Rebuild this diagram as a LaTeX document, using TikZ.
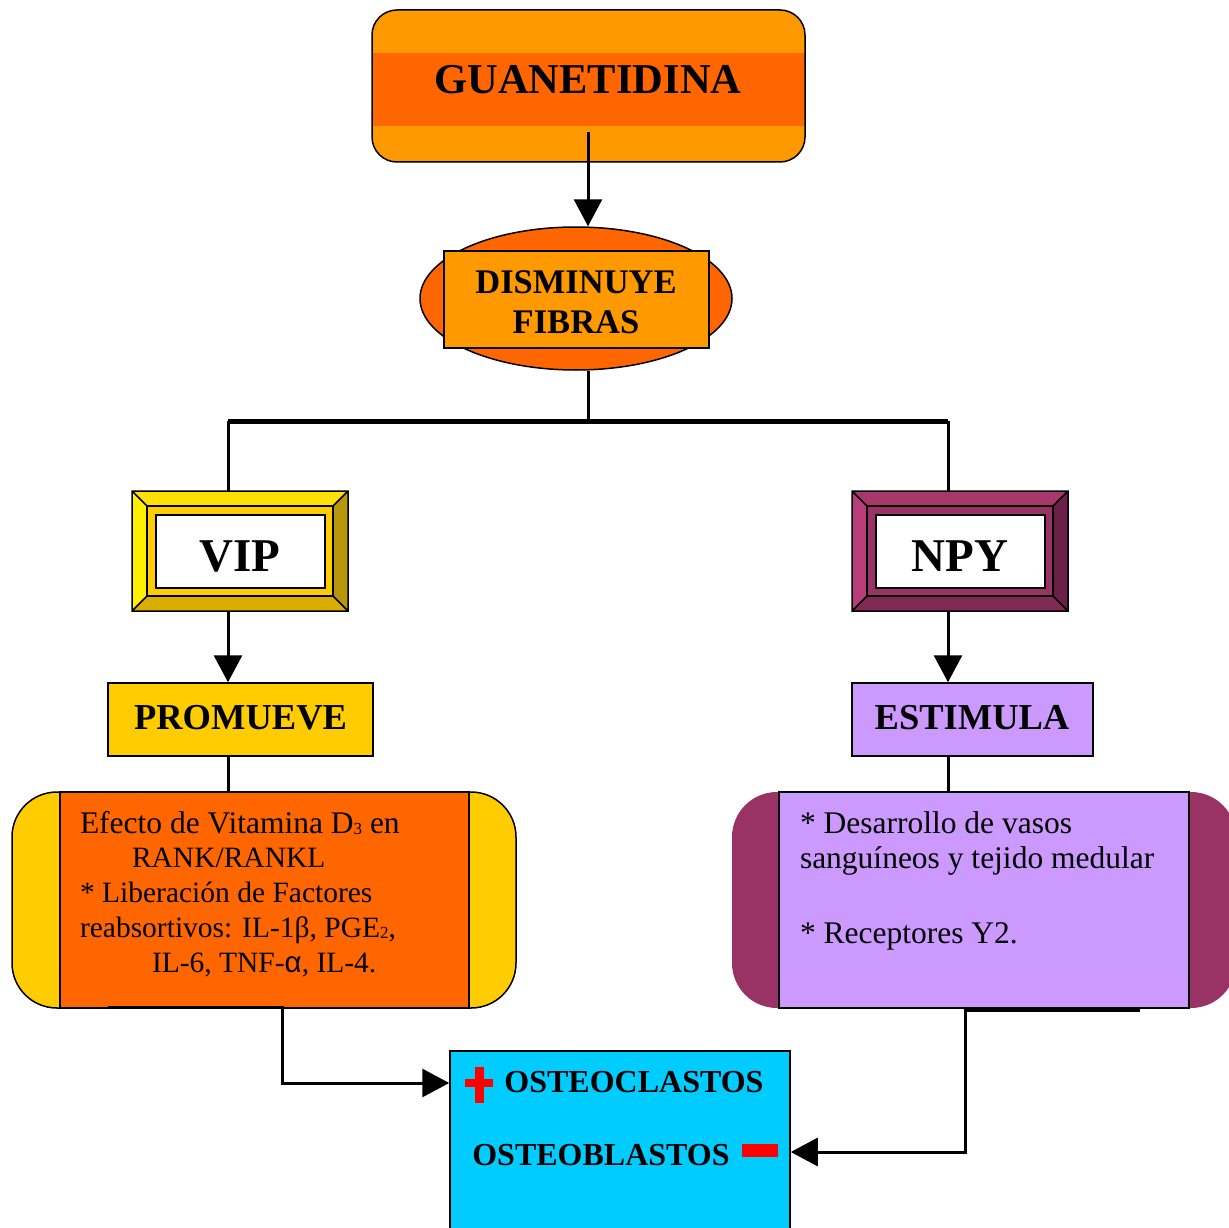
\documentclass[tikz,border=0pt]{standalone}
\usepackage{fontspec}
\setmainfont{Liberation Serif}
\newfontfamily\alphafont{Liberation Sans}
\usetikzlibrary{shapes.geometric,arrows.meta}
\definecolor{orgL}{HTML}{FF9900}
\definecolor{orgD}{HTML}{FF6600}
\definecolor{yel}{HTML}{FFCC00}
\definecolor{vtop}{HTML}{FFE100}
\definecolor{vleft}{HTML}{FFF000}
\definecolor{vright}{HTML}{B8960A}
\definecolor{vbot}{HTML}{DAAE00}
\definecolor{maroon}{HTML}{993366}
\definecolor{ntop}{HTML}{A8386C}
\definecolor{nleft}{HTML}{B83D7A}
\definecolor{nright}{HTML}{6B2147}
\definecolor{nbot}{HTML}{7F2A55}
\definecolor{lilac}{HTML}{CC99FF}
\definecolor{cyanbox}{HTML}{00CCFF}
\newcommand\subsc[1]{\raisebox{-1.5pt}{\fontsize{17}{17}\selectfont #1}}
\newcommand\drawbevel[9]{%
 \fill[#5] (#1,#2) -- (#3,#2) -- ({#3-15},{#2+15}) -- ({#1+15},{#2+15}) -- cycle;
 \fill[#6] (#1,#2) -- ({#1+15},{#2+15}) -- ({#1+15},{#4-15}) -- (#1,#4) -- cycle;
 \fill[#7] (#3,#2) -- (#3,#4) -- ({#3-15},{#4-15}) -- ({#3-15},{#2+15}) -- cycle;
 \fill[#8] (#1,#4) -- (#3,#4) -- ({#3-15},{#4-15}) -- ({#1+15},{#4-15}) -- cycle;
 \draw[line width=1.5pt,fill=#9] ({#1+15},{#2+15}) rectangle ({#3-15},{#4-15});
 \draw[line width=1.5pt,fill=white] ({#1+24},{#2+24}) rectangle ({#3-23},{#4-23});
 \draw[line width=1.5pt] (#1,#2) rectangle (#3,#4)
   (#1,#2) -- ({#1+15},{#2+15}) (#3,#2) -- ({#3-15},{#2+15})
   (#1,#4) -- ({#1+15},{#4-15}) (#3,#4) -- ({#3-15},{#4-15});
}
\begin{document}
\begin{tikzpicture}[x=1pt,y=-1pt,
  conn/.style={line width=3pt},
  arr/.style={conn,-{Triangle[width=28pt,length=27pt]}},
  bx/.style={draw=black,line width=1.5pt,inner sep=0pt},
  plain/.style={inner sep=0pt,outer sep=0pt},
  bigt/.style={plain,font=\fontsize{42.5}{48}\selectfont\bfseries},
  midt/.style={plain,font=\fontsize{34.5}{40}\selectfont\bfseries},
  framet/.style={plain,font=\fontsize{47}{52}\selectfont\bfseries},
  labt/.style={plain,font=\fontsize{36.5}{40}\selectfont\bfseries},
  bodyt/.style={plain,anchor=base west,font=\fontsize{31.5}{35}\selectfont},
  bodys/.style={plain,anchor=base west,font=\fontsize{29.5}{35}\selectfont},
  ostt/.style={plain,anchor=base,font=\fontsize{32}{36}\selectfont\bfseries}]
\useasboundingbox (0,0) rectangle (1229,1228);

% GUANETIDINA
\node[plain,rounded corners=25pt,fill=orgL,minimum width=433pt,minimum height=152pt] (guan) at (588.5,86) {};
\fill[orgD] (guan.west |- 0,53) rectangle (guan.east |- 0,126);
\node[plain,draw,line width=1.5pt,rounded corners=25pt,minimum width=433pt,minimum height=152pt] (guanb) at (guan) {};
\node[bigt,anchor=base] (guant) at (588,94) {GUANETIDINA};

% DISMINUYE FIBRAS
\node[ellipse,draw,line width=1.5pt,fill=orgD,minimum width=312pt,minimum height=143pt,inner sep=0pt] (dis) at (576,298.5) {};
\node[bx,fill=orgL,minimum width=265pt,minimum height=97pt] (disr) at (576.5,299.5) {};
\node[midt,anchor=base] (dist1) at (576,293) {DISMINUYE};
\node[midt,anchor=base] (dist2) at (576,333) {FIBRAS};

\draw[arr] ([yshift=-38pt]guant.base) -- (guant |- dis.north);

% bar
\coordinate (barL) at (228,421);
\coordinate (barR) at (948,421);
\draw[conn] (dis.south -| guant) -- (guant |- barL);
\draw[line width=5pt] (barL) -- (barR);

% VIP frame
\drawbevel{132}{491}{348}{611}{vtop}{vleft}{vright}{vbot}{yel}
\node[plain,minimum width=216pt,minimum height=120pt] (vip) at (240,551) {};
\node[framet,anchor=base] (vipt) at (240,571) {VIP};

% NPY frame
\drawbevel{852}{491}{1068}{611}{ntop}{nleft}{nright}{nbot}{maroon}
\node[plain,minimum width=216pt,minimum height=120pt] (npy) at (960,551) {};
\node[framet,anchor=base] (npyt) at (960,571) {NPY};

\draw[conn] (barL) -- (barL |- vip.north);
\draw[conn] (barR) -- (barR |- npy.north);

% PROMUEVE / ESTIMULA
\node[bx,fill=yel,minimum width=265pt,minimum height=73pt] (prom) at (240.5,719.5) {};
\node[labt,anchor=base] (promt) at (240.5,729) {PROMUEVE};
\node[bx,fill=lilac,minimum width=241pt,minimum height=73pt] (estim) at (972.5,719.5) {};
\node[labt,anchor=base] (estimt) at (972,729) {ESTIMULA};

\draw[arr] (vip.south -| barL) -- (prom.north -| barL);
\draw[arr] (npy.south -| barR) -- (estim.north -| barR);

% left big box
\node[plain,draw,line width=1.5pt,rounded corners=45pt,fill=yel,minimum width=504pt,minimum height=216pt] (lbox) at (264,900) {};
\node[bx,fill=orgD,minimum width=409pt,minimum height=216pt] (lin) at (264.5,900) {};
\node[bodyt] (l1) at (80,833) {Efecto de Vitamina D\subsc{3} en};
\node[bodys] (l2) at (132,867) {RANK/RANKL};
\node[bodys] (l3) at (80,902) {* Liberación de Factores};
\node[bodys] (l4) at (80,937) {reabsortivos: IL-1β, PGE\subsc{2},};
\node[bodys] (l5) at (152,972) {IL-6, TNF-{\alphafont α}, IL-4.};

% right big box
\node[plain,rounded corners=45pt,fill=maroon,minimum width=504pt,minimum height=216pt] (rbox) at (984,900) {};
\node[bx,fill=lilac,minimum width=410pt,minimum height=216pt] (rin) at (984,900) {};
\node[bodyt] (r1) at (800,833) {* Desarrollo de vasos};
\node[bodyt] (r2) at (800,868) {sanguíneos y tejido medular};
\node[bodyt] (r3) at (800,943) {* Receptores Y2.};

\draw[conn] (prom.south -| barL) -- (lbox.north -| barL);
\draw[conn] (estim.south -| barR) -- (rbox.north -| barR);

% OSTEO box
\node[bx,fill=cyanbox,minimum width=340pt,minimum height=184pt] (osteo) at (620,1143) {};
\node[ostt] (oc) at (634,1092) {OSTEOCLASTOS};
\node[ostt] (ob) at (601,1165) {OSTEOBLASTOS};
\fill[red] (475,1067) rectangle (484,1103);
\fill[red] (465,1079) rectangle (493,1087);
\fill[red] (742,1144) rectangle (778,1157);

% connectors to osteo box
\coordinate (lc0) at (108,1007);
\coordinate (lc1) at (282,1007);
\coordinate (lc2) at (282,1083);
\draw[arr] (lc0) -- (lc1) -- (lc2) -- (lc2 -| osteo.west);
\coordinate (rc0) at (1140,1010);
\coordinate (rc1) at (965,1010);
\coordinate (rc2) at (965,1152);
\draw[arr] (rc0) -- (rc1) -- (rc2) -- (rc2 -| osteo.east);
\end{tikzpicture}
\end{document}
